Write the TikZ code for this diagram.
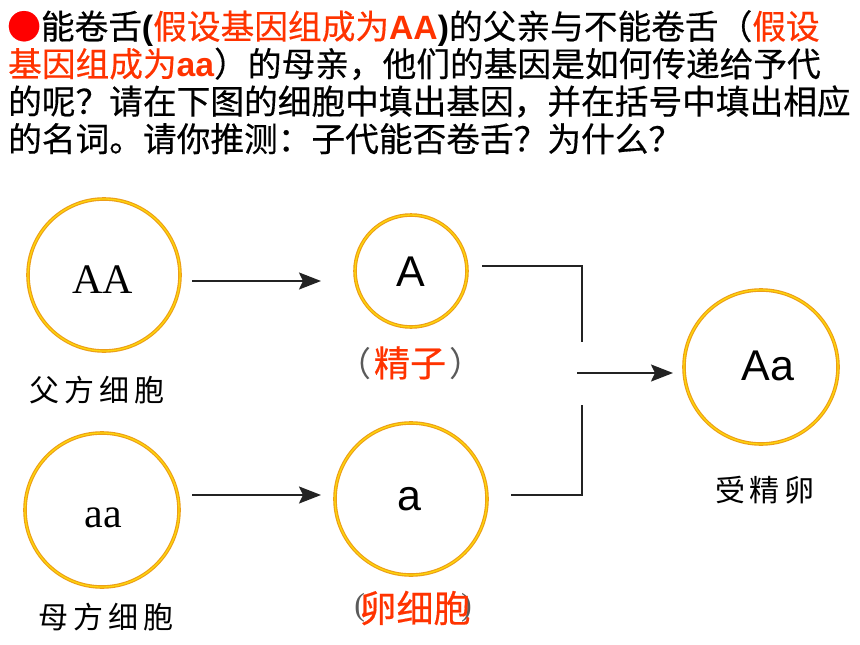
\documentclass[tikz,border=0pt]{standalone}
\usepackage{fontspec}
\setmainfont{Liberation Sans}
\newfontfamily\cjk{Noto Sans CJK SC}
\newfontfamily\cjkb{Noto Sans CJK SC}[FakeBold=0.4]
\newfontfamily\tms{Liberation Serif}
\usetikzlibrary{arrows.meta}
\definecolor{hred}{RGB}{255,51,0}
\definecolor{bred}{RGB}{255,0,0}
\definecolor{ringo}{RGB}{236,158,24}
\definecolor{ringy}{RGB}{255,214,10}
\definecolor{lin}{RGB}{35,35,35}
\definecolor{pgray}{RGB}{90,90,90}
\newcommand\latb{\rmfamily\bfseries}
\begin{document}
\begin{tikzpicture}[x=1pt,y=-1pt,
  ring/.style={circle, draw=ringo, line width=3.6pt, inner sep=0pt,
    postaction={draw=ringy, line width=1.3pt}},
  gene/.style={inner sep=0pt, anchor=base, font=\fontsize{43}{43}\selectfont},
  tgene/.style={inner sep=0pt, anchor=base, font=\tms\fontsize{42}{42}\selectfont},
  lab/.style={inner sep=0pt, font=\cjk\fontsize{30}{30}\selectfont},
  redlab/.style={inner sep=0pt, text=hred, font=\cjkb\fontsize{36}{36}\selectfont},
  head/.style={inner sep=0pt, anchor=base west, font=\cjkb\fontsize{33.7}{37}\selectfont},
  arr/.style={draw=lin, line width=2pt, -{Stealth[length=22pt, width=17pt, inset=4pt]}},
  brk/.style={draw=lin, line width=2pt}
]
\useasboundingbox (0,0) rectangle (860,645);
\fill[white] (0,0) rectangle (860,645);

% heading
\node[head] (t1) at (7,39) {{\color{bred}●}能卷舌{\latb(}{\color{hred}假设基因组成为{\latb AA}}{\latb)}的父亲与不能卷舌（{\color{hred}假设}};
\node[head] (t2) at (8,76.5) {{\color{hred}基因组成为{\latb aa}}）的母亲，他们的基因是如何传递给予代};
\node[head] (t3) at (8,114) {的呢？请在下图的细胞中填出基因，并在括号中填出相应};
\node[head] (t4) at (8,151.5) {的名词。请你推测：子代能否卷舌？为什么？};

% cells
\node[ring, minimum size=152pt] (c1) at (104,275) {};
\node[ring, minimum size=112pt] (c2) at (411,271) {};
\node[ring, minimum size=154pt] (c3) at (102,510) {};
\node[ring, minimum size=152pt] (c4) at (411,499) {};
\node[ring, minimum size=154pt] (c5) at (761,367) {};

\node[tgene] (g1) at (103,293) {AA};
\node[gene] (g2) at (411,286) {A};
\node[tgene] (g3) at (103,527) {aa};
\node[gene] (g4) at (409,510) {a};
\node[gene] (g5) at (768,380) {Aa};

% labels
\node[lab] (l1) at (97,390) {父\hspace{5pt}方\hspace{5pt}细\hspace{5pt}胞};
\node[lab] (l3) at (106,617) {母\hspace{5pt}方\hspace{5pt}细\hspace{5pt}胞};
\node[lab] (l5) at (765,490) {受\hspace{5pt}精\hspace{5pt}卵};
\node[inner sep=0pt, font=\cjk\fontsize{34}{34}\selectfont, text=pgray] (l2) at (410,363) {（\hspace{3pt}{\color{hred}\cjkb\fontsize{36}{36}\selectfont 精子}\hspace{3pt}）};
\node[inner sep=0pt, font=\tms\fontsize{32}{32}\selectfont, text=pgray] (l4p) at (413,608) {(\hspace{96pt})};
\node[redlab, font=\cjkb\fontsize{37}{37}\selectfont] (l4) at (415,608) {卵细胞};

% connectors
\coordinate (a1s) at (192,281);
\coordinate (a1e) at (321,281);
\coordinate (a2s) at (192,495);
\coordinate (a2e) at (321,495);
\coordinate (b1s) at (482,266);
\coordinate (b1c) at (582,266);
\coordinate (b1e) at (582,342);
\coordinate (b2s) at (511,495);
\coordinate (b2c) at (582,495);
\coordinate (b2e) at (582,405);
\coordinate (a3s) at (577,373);
\coordinate (a3e) at (673,373);

\draw[arr] (a1s) -- (a1e);
\draw[arr] (a2s) -- (a2e);
\draw[brk] (b1s) -- (b1c) -- (b1e);
\draw[brk] (b2s) -- (b2c) -- (b2e);
\draw[arr] (a3s) -- (a3e);
\end{tikzpicture}
\end{document}
